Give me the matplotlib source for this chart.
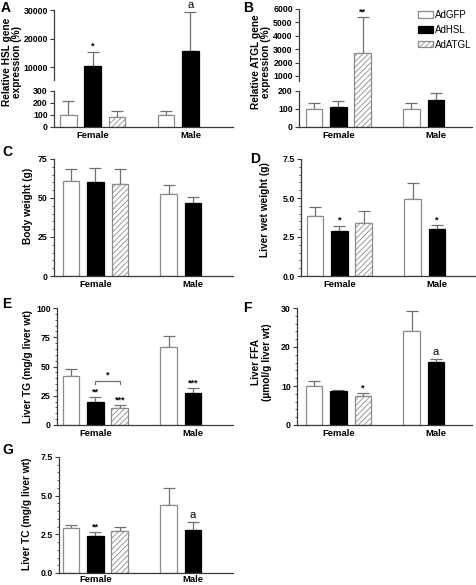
import numpy as np
import matplotlib
matplotlib.use("Agg")
import matplotlib.pyplot as plt
from matplotlib.patches import Patch
from matplotlib.ticker import AutoMinorLocator

plt.rcParams['font.family'] = ['Liberation Sans', 'DejaVu Sans']
plt.rcParams['font.weight'] = 'bold'
plt.rcParams['axes.labelweight'] = 'bold'
plt.rcParams['hatch.linewidth'] = 0.6
plt.rcParams['hatch.color'] = '#9a9a9a'

# ---- data ----
groups = ['Female', 'Male']
treatments = ['AdGFP', 'AdHSL', 'AdATGL']
nan = np.nan

hsl_mean = [[100, 10450, 80], [100, 15750, nan]]
hsl_err = [[115, 4950, 53], [33, 13600, nan]]
hsl_sig = [['', '*', ''], ['', 'a', '']]

atgl_mean = [[100, 113, 2700], [100, 150, nan]]
atgl_err = [[32, 32, 2700], [32, 38, nan]]
atgl_sig = [['', '', '**'], ['', '', '']]

body_mean = [[61, 60.4, 59], [52.4, 47, nan]]
body_err = [[7.4, 8.6, 9.4], [5.7, 3.8, nan]]
body_sig = [['', '', ''], ['', '', '']]

livwt_mean = [[3.85, 2.86, 3.38], [4.93, 2.99, nan]]
livwt_err = [[0.59, 0.37, 0.79], [1.05, 0.29, nan]]
livwt_sig = [['', '*', ''], ['', '*', '']]

tg_mean = [[41.5, 20, 14.5], [67, 27.2, nan]]
tg_err = [[6.2, 4, 2.3], [9.3, 4, nan]]
tg_sig = [['', '**', '***'], ['', '***', '']]
tg_bracket = (1, 2, '*')   # HSL vs ATGL, female

ffa_mean = [[9.9, 8.8, 7.4], [24.2, 16.1, nan]]
ffa_err = [[1.5, 0.3, 0.8], [5.1, 0.8, nan]]
ffa_sig = [['', '', '*'], ['', 'a', '']]

tc_mean = [[2.9, 2.4, 2.7], [4.4, 2.8, nan]]
tc_err = [[0.22, 0.22, 0.3], [1.1, 0.5, nan]]
tc_sig = [['', '**', ''], ['', 'a', '']]

# ---- style ----
fills = ['white', 'black', 'white']
edges = ['#8a8a8a', 'black', '#8a8a8a']
hatches = [None, None, '//////']
axcol = '#3a3a3a'
errcol = '#707070'
W, H = 477, 585
slots = [[0, 1, 2], [4, 5, 6]]

fig = plt.figure(figsize=(W / 100, H / 100), dpi=100)


def box(l, r, t, b):
    return [l / W, 1 - b / H, (r - l) / W, (b - t) / H]


def style_ax(ax, left, wpx, labels=True, xpad=3):
    ax.spines['top'].set_visible(False)
    ax.spines['right'].set_visible(False)
    for s in ['left', 'bottom']:
        ax.spines[s].set_color(axcol)
        ax.spines[s].set_linewidth(0.9)
    ax.set_xlim(left, left + wpx / 24.4)
    ax.tick_params(axis='y', direction='out', length=3, width=0.8,
                   color=axcol, labelsize=6.3, pad=1.5)
    ax.tick_params(axis='y', which='minor', length=1.8, width=0.6, color=axcol)
    ax.tick_params(axis='x', length=0, labelsize=6.8, pad=xpad)
    if labels:
        ax.set_xticks([slots[0][1], slots[1][1]])
        ax.set_xticklabels(groups)
    else:
        ax.set_xticks([])


def draw_bars(ax, means, errs, sig=None):
    for g in range(2):
        for t in range(3):
            m = means[g][t]
            if np.isnan(m):
                continue
            x = slots[g][t]
            ax.bar(x, m, width=0.68, color=fills[t], edgecolor=edges[t],
                   hatch=hatches[t], linewidth=0.9, zorder=2)
            ax.errorbar(x, m, yerr=[[0], [errs[g][t]]], fmt='none',
                        ecolor=errcol, elinewidth=0.9, capsize=4,
                        capthick=0.9, zorder=1)
            if sig and sig[g][t]:
                lab = sig[g][t]
                is_a = lab == 'a'
                ax.annotate(lab, (x, m + errs[g][t]), xytext=(0, 1.5 if is_a else 0.5),
                            textcoords='offset points', ha='center', va='bottom',
                            fontsize=8 if is_a else 6.5,
                            fontweight='normal' if is_a else 'bold')


# ---- A: HSL expression (broken axis) ----
axA_up = fig.add_axes(box(54, 233, 10, 81))
axA_lo = fig.add_axes(box(54, 233, 81, 127))
draw_bars(axA_up, hsl_mean, hsl_err, hsl_sig)
draw_bars(axA_lo, hsl_mean, hsl_err)
style_ax(axA_up, -0.59, 179, labels=False)
style_ax(axA_lo, -0.59, 179)
axA_up.spines['bottom'].set_visible(False)
axA_up.set_ylim(5088, 30000)
axA_up.set_yticks([10000, 20000, 30000])
axA_lo.set_ylim(0, 383)
axA_lo.spines['left'].set_bounds(0, 300)
axA_lo.set_yticks([0, 100, 200, 300])
fig.text(12 / W, 1 - 62 / H, 'Relative HSL gene\nexpression (%)', rotation=90,
         ha='center', va='center', fontsize=7.3, linespacing=1.1)

# ---- B: ATGL expression (broken axis) ----
axB_up = fig.add_axes(box(299, 472, 9, 82))
axB_lo = fig.add_axes(box(299, 472, 82, 127))
draw_bars(axB_up, atgl_mean, atgl_err, atgl_sig)
draw_bars(axB_lo, atgl_mean, atgl_err)
style_ax(axB_up, -0.61, 173, labels=False)
style_ax(axB_lo, -0.61, 173)
axB_up.spines['bottom'].set_visible(False)
axB_up.set_ylim(552, 6000)
axB_up.set_yticks([1000, 2000, 3000, 4000, 5000, 6000])
axB_lo.set_ylim(0, 250)
axB_lo.spines['left'].set_bounds(0, 200)
axB_lo.set_yticks([0, 100, 200])
fig.text(261 / W, 1 - 62 / H, 'Relative ATGL gene\nexpression (%)', rotation=90,
         ha='center', va='center', fontsize=7.3, linespacing=1.1)

fig.legend(handles=[Patch(facecolor=fills[i], edgecolor=edges[i], hatch=hatches[i],
                          linewidth=0.9, label=treatments[i]) for i in range(3)],
           loc='upper left', bbox_to_anchor=(418 / W, 1 - 10 / H), frameon=False,
           handlelength=1.55, handleheight=0.6, labelspacing=0.5,
           handletextpad=0.2, borderaxespad=0, borderpad=0,
           prop={'weight': 'normal', 'size': 7})

# ---- C..G ----
panels = [
    (box(54, 233, 159, 276), -0.70, 179, body_mean, body_err, body_sig, 75, [0, 25, 50, 75],
     'Body weight (g)', (-0.117, 0.6), 3),
    (box(301, 475, 159, 276), -0.57, 174, livwt_mean, livwt_err, livwt_sig, 7.5,
     [0, 2.5, 5, 7.5], 'Liver wet weight (g)', (-0.178, 0.57), 3),
    (box(57, 233, 308, 425), -0.57, 176, tg_mean, tg_err, tg_sig, 100, [0, 25, 50, 75, 100],
     'Liver TG (mg/g liver wt)', (-0.136, 0.5), 3),
    (box(297, 472, 308, 425), -0.70, 175, ffa_mean, ffa_err, ffa_sig, 30, [0, 10, 20, 30],
     'Liver FFA\n(\u00b5mol/g liver wt)', (-0.143, 0.54), 3),
    (box(59, 233, 457, 573), -0.49, 174, tc_mean, tc_err, tc_sig, 7.5, [0, 2.5, 5, 7.5],
     'Liver TC (mg/g liver wt)', (-0.155, 0.51), 1.5),
]
axes = []
for rect, left, wpx, mean, err, sig, top, ticks, ylab, lc, xpad in panels:
    ax = fig.add_axes(rect)
    draw_bars(ax, mean, err, sig)
    style_ax(ax, left, wpx, xpad=xpad)
    ax.set_ylim(0, top)
    ax.set_yticks(ticks)
    if top == 7.5:
        ax.set_yticklabels(['%.1f' % v for v in ticks])
    ax.yaxis.set_minor_locator(AutoMinorLocator(5))
    ax.set_ylabel(ylab, fontsize=7.3, linespacing=1.1)
    ax.yaxis.set_label_coords(*lc)
    axes.append(ax)

# bracket in E
axE = axes[2]
i, j, lab = tg_bracket
yb = max(tg_mean[0][i] + tg_err[0][i], tg_mean[0][j] + tg_err[0][j]) + 14
axE.plot([i, i, j, j], [yb - 3, yb, yb, yb - 3], color=errcol, lw=0.9)
axE.text((i + j) / 2, yb + 1, lab, ha='center', va='bottom', fontsize=6.5)

for lab, x, y in [('A', 1, 1), ('B', 243, 1), ('C', 2, 145), ('D', 250, 152),
                  ('E', 2, 297), ('F', 243, 301), ('G', 2, 443)]:
    fig.text(x / W, 1 - y / H, lab, fontsize=10, fontweight='bold', va='top', ha='left')

fig.savefig('out.png', dpi=100)
